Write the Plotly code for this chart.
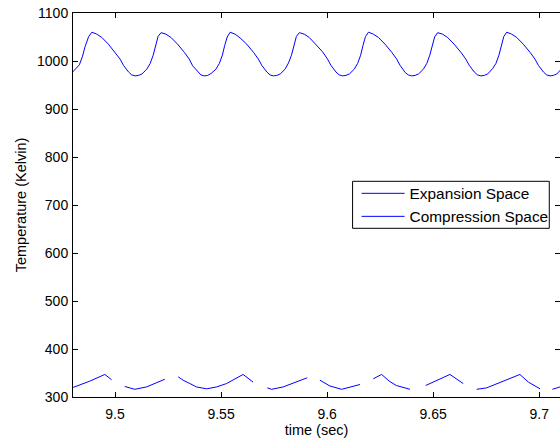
import plotly.graph_objects as go

# Expansion space temperature
exp_t = [
    9.4800, 9.4832, 9.4847, 9.4859, 9.4876,
    9.4891, 9.4914, 9.4938, 9.4969, 9.5001, 9.5024, 9.5040, 9.5064, 9.5079, 9.5095, 9.5111, 9.5127, 9.5150, 9.5166, 9.5180, 9.5191, 9.5203,
    9.5217, 9.5240, 9.5264, 9.5295, 9.5327, 9.5350, 9.5366, 9.5390, 9.5405, 9.5421, 9.5437, 9.5453, 9.5476, 9.5492, 9.5506, 9.5517, 9.5529,
    9.5543, 9.5566, 9.5590, 9.5621, 9.5653, 9.5676, 9.5692, 9.5716, 9.5731, 9.5747, 9.5763, 9.5779, 9.5802, 9.5818, 9.5832, 9.5843, 9.5855,
    9.5869, 9.5892, 9.5916, 9.5947, 9.5979, 9.6002, 9.6018, 9.6042, 9.6057, 9.6073, 9.6089, 9.6105, 9.6128, 9.6144, 9.6158, 9.6169, 9.6181,
    9.6195, 9.6218, 9.6242, 9.6273, 9.6305, 9.6328, 9.6344, 9.6368, 9.6383, 9.6399, 9.6415, 9.6431, 9.6454, 9.6470, 9.6484, 9.6495, 9.6507,
    9.6521, 9.6544, 9.6568, 9.6599, 9.6631, 9.6654, 9.6670, 9.6694, 9.6709, 9.6725, 9.6741, 9.6757, 9.6780, 9.6796, 9.6810, 9.6821, 9.6833,
    9.6847, 9.6870, 9.6894, 9.6925, 9.6957, 9.6980, 9.6996, 9.7020, 9.7035, 9.7051, 9.7067, 9.7083, 9.7106,
]
exp_T = [
    977, 992, 1010, 1030, 1051,
    1060, 1056, 1049, 1035, 1018, 1004, 991, 977, 971, 969, 970, 973, 983, 995, 1012, 1032, 1051,
    1059, 1056, 1049, 1035, 1018, 1004, 990, 977, 971, 969, 970, 974, 983, 995, 1012, 1032, 1050,
    1060, 1056, 1048, 1035, 1018, 1004, 991, 977, 971, 969, 970, 973, 983, 996, 1012, 1033, 1051,
    1059, 1056, 1049, 1035, 1019, 1004, 991, 977, 971, 969, 970, 973, 983, 995, 1012, 1032, 1051,
    1060, 1056, 1049, 1035, 1018, 1004, 991, 976, 971, 969, 970, 973, 983, 995, 1012, 1032, 1050,
    1059, 1056, 1049, 1035, 1018, 1004, 991, 977, 971, 969, 970, 973, 984, 995, 1012, 1032, 1051,
    1060, 1056, 1049, 1035, 1018, 1004, 991, 977, 971, 969, 970, 973, 984,
]

# Compression space temperature (gaps as drawn in the picture)
comp_t = [
    9.4803, 9.4881, 9.4952, 9.4984, None,
    9.5046, 9.5093, 9.5149, 9.5235, None,
    9.5298, 9.5321, 9.5353, 9.5384, 9.5432, 9.5479, 9.5526, 9.5565, 9.5604, 9.5651, None,
    9.5718, 9.5738, 9.5793, 9.5906, None,
    9.5966, 9.6013, 9.6068, 9.6155, None,
    9.6218, 9.6257, 9.6293, 9.6326, 9.6391, None,
    9.6465, 9.6579, 9.6642, None,
    9.6705, 9.6752, 9.6909, 9.6949, 9.7004, None,
    9.7062, 9.7098,
]
comp_T = [
    320, 333, 347, 336, None,
    322, 316, 321, 337, None,
    342, 335, 328, 321, 317, 321, 328, 337, 347, 331, None,
    319, 316, 321, 340, None,
    335, 323, 316, 326, None,
    338, 347, 333, 324, 316, None,
    324, 347, 328, None,
    316, 319, 347, 331, 317, None,
    316, 321,
]

x_ticks = [9.5, 9.55, 9.6, 9.65, 9.7]
x_tick_labels = ["9.5", "9.55", "9.6", "9.65", "9.7"]
y_ticks = [300, 400, 500, 600, 700, 800, 900, 1000, 1100]

x_range = [9.4802, 9.7098]
y_range = [300, 1100]

blue = "#0000ff"

fig = go.Figure()
fig.add_trace(go.Scatter(x=exp_t, y=exp_T, mode="lines", name="Expansion Space",
                         line=dict(color=blue, width=1)))
fig.add_trace(go.Scatter(x=comp_t, y=comp_T, mode="lines", name="Compression Space",
                         line=dict(color=blue, width=1), connectgaps=False, yaxis="y2"))

font_family = "Liberation Sans, Arial, Helvetica, sans-serif"

fig.update_layout(
    width=560, height=439,
    margin=dict(l=73, r=0, t=13, b=42),
    paper_bgcolor="white", plot_bgcolor="white",
    font=dict(family=font_family, size=14, color="black"),
    xaxis=dict(
        range=x_range, tickvals=x_ticks, ticktext=x_tick_labels,
        ticks="inside", ticklen=5, tickcolor="black", tickwidth=1,
        ticklabelstandoff=4,
        showline=True, linecolor="black", linewidth=1, mirror="ticks",
        showgrid=False, zeroline=False,
        title=dict(text="time (sec)", standoff=4, font=dict(size=14.5)),
    ),
    yaxis=dict(
        range=y_range, tickvals=y_ticks,
        ticks="inside", ticklen=5, tickcolor="black", tickwidth=1,
        ticklabelstandoff=1,
        showline=True, linecolor="black", linewidth=1, mirror=False,
        showgrid=False, zeroline=False,
        title=dict(text="Temperature (Kelvin)", standoff=6, font=dict(size=14.5)),
    ),
    yaxis2=dict(
        range=y_range, tickvals=y_ticks, overlaying="y", side="right",
        ticks="inside", ticklen=5, tickcolor="black", tickwidth=1,
        showline=False, showticklabels=False, showgrid=False, zeroline=False,
    ),
    legend=dict(
        x=0.5823, y=0.5734, xanchor="left", yanchor="top",
        bgcolor="rgba(0,0,0,0)", borderwidth=0, itemwidth=43,
        font=dict(family=font_family, size=15.4, color="black"),
    ),
    shapes=[dict(
        type="rect", xref="paper", yref="paper",
        x0=0.5741, x1=0.978, y0=0.4393, y1=0.5617,
        line=dict(color="black", width=1), fillcolor="rgba(0,0,0,0)", layer="above",
    )],
    showlegend=True,
)

fig.write_html("out.html", config={"displayModeBar": False},
               post_script="document.body.style.margin='0';")
